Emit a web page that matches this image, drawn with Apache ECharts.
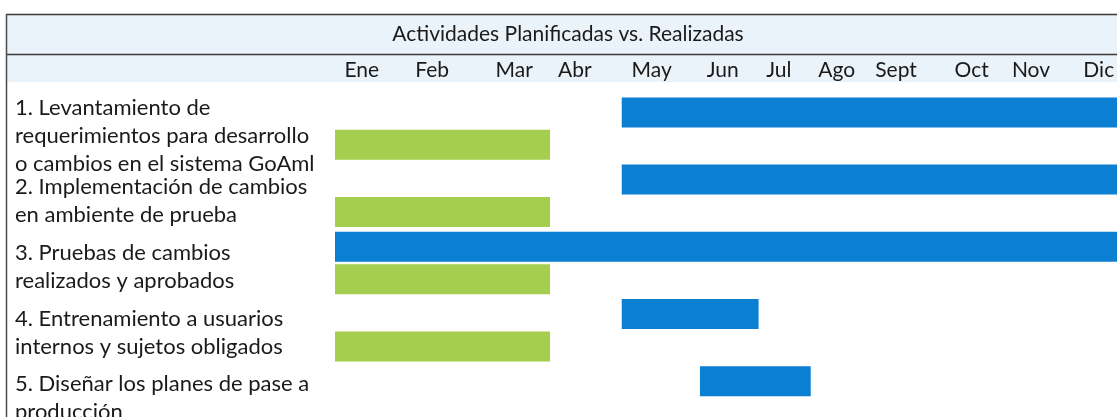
<!DOCTYPE html>
<html>
<head>
<meta charset="utf-8">
<script src="https://cdn.jsdelivr.net/npm/echarts@6/dist/echarts.min.js"></script>
<style>
  html, body { margin: 0; padding: 0; background: #fff; }
</style>
</head>
<body>
<div id="chart" style="width: 1117px; height: 417px;"></div>
<script>
// actividades (eje vertical)
var tasks = [
    "1. Levantamiento de\nrequerimientos para desarrollo\no cambios en el sistema GoAml",
    "2. Implementación de cambios\nen ambiente de prueba",
    "3. Pruebas de cambios\nrealizados y aprobados",
    "4. Entrenamiento a usuarios\ninternos y sujetos obligados",
    "5. Diseñar los planes de pase a\nproducción"
];
// meses (0 = inicio de enero, 12 = fin de diciembre)
var months = ["Ene", "Feb", "Mar", "Abr", "May", "Jun", "Jul", "Ago", "Sept", "Oct", "Nov", "Dic"];
var monthTicks = [0.41, 1.49, 2.75, 3.68, 4.86, 5.95, 6.81, 7.70, 8.61, 9.77, 10.68, 11.72];

// realizadas (azul)
var realStart = [4.4, 4.4, 0, 4.4, 5.6];
var realEnd = [12, 12, 12, 6.5, 7.3];
// planificadas (verde)
var planStart = [0, 0, 0, 0, null];
var planEnd = [3.3, 3.3, 3.3, 3.3, null];

var FONT = "Lato";

function lengths(s, e) {
    return s.map(function (v, i) { return v == null ? "-" : e[i] - v; });
}
function bases(s) {
    return s.map(function (v) { return v == null ? "-" : v; });
}

var chart = echarts.init(document.getElementById("chart"));
chart.setOption({
    animation: false,
    backgroundColor: "#ffffff",
    // grid 0: barras, grid 1: solo los textos de las actividades
    grid: [{
        left: 335,
        right: 0,
        top: 95,
        height: 336,
        outerBoundsMode: "none"
    }, {
        left: 335,
        right: 0,
        top: 103,
        height: 328,
        outerBoundsMode: "none"
    }],
    graphic: [{
        type: "rect",
        z: 0,
        shape: { x: 6, y: 14, width: 1111, height: 68 },
        style: { fill: "#eaf2fa" }
    }, {
        type: "line",
        z: 1,
        shape: { x1: 6, y1: 14.5, x2: 1117, y2: 14.5 },
        style: { stroke: "#3a3a3a", lineWidth: 1.5 }
    }, {
        type: "line",
        z: 1,
        shape: { x1: 6, y1: 54.5, x2: 1117, y2: 54.5 },
        style: { stroke: "#3a3a3a", lineWidth: 1.5 }
    }, {
        type: "line",
        z: 1,
        shape: { x1: 6.5, y1: 14, x2: 6.5, y2: 417 },
        style: { stroke: "#4a4a4a", lineWidth: 1.5 }
    }, {
        type: "text",
        z: 1,
        x: 568,
        y: 34,
        style: {
            text: "Actividades Planificadas vs. Realizadas",
            fontFamily: FONT,
            fontSize: 21,
            fill: "#1a1a1a",
            align: "center",
            verticalAlign: "middle"
        }
    }],
    xAxis: [{
        type: "value",
        gridIndex: 0,
        position: "top",
        min: 0,
        max: 12,
        axisLine: { show: false },
        axisTick: { show: false },
        splitLine: { show: false },
        axisLabel: {
            customValues: monthTicks,
            margin: 14,
            fontFamily: FONT,
            fontSize: 21,
            color: "#1a1a1a",
            formatter: function (v) {
                for (var i = 0; i < monthTicks.length; i++) {
                    if (Math.abs(monthTicks[i] - v) < 1e-6) return months[i];
                }
                return "";
            }
        }
    }, {
        type: "value",
        gridIndex: 1,
        show: false,
        min: 0,
        max: 12
    }],
    yAxis: [{
        type: "category",
        gridIndex: 0,
        inverse: true,
        data: tasks,
        axisLine: { show: false },
        axisTick: { show: false },
        splitLine: { show: false },
        axisLabel: { show: false }
    }, {
        type: "category",
        gridIndex: 1,
        inverse: true,
        data: tasks,
        axisLine: { show: false },
        axisTick: { show: false },
        splitLine: { show: false },
        axisLabel: {
            interval: 0,
            align: "left",
            margin: 320,
            fontFamily: FONT,
            fontSize: 22,
            lineHeight: 28,
            color: "#1a1a1a"
        }
    }],
    series: [{
        name: "base real",
        type: "bar",
        stack: "real",
        silent: true,
        barWidth: 30,
        barGap: "8%",
        itemStyle: { color: "transparent" },
        data: bases(realStart)
    }, {
        name: "Realizadas",
        type: "bar",
        stack: "real",
        barWidth: 30,
        barGap: "8%",
        itemStyle: { color: "#0b7fd2" },
        data: lengths(realStart, realEnd)
    }, {
        name: "base plan",
        type: "bar",
        stack: "plan",
        silent: true,
        barWidth: 30,
        barGap: "8%",
        itemStyle: { color: "transparent" },
        data: bases(planStart)
    }, {
        name: "Planificadas",
        type: "bar",
        stack: "plan",
        barWidth: 30,
        barGap: "8%",
        itemStyle: { color: "#a6ce4e" },
        data: lengths(planStart, planEnd)
    }]
});
</script>
</body>
</html>
